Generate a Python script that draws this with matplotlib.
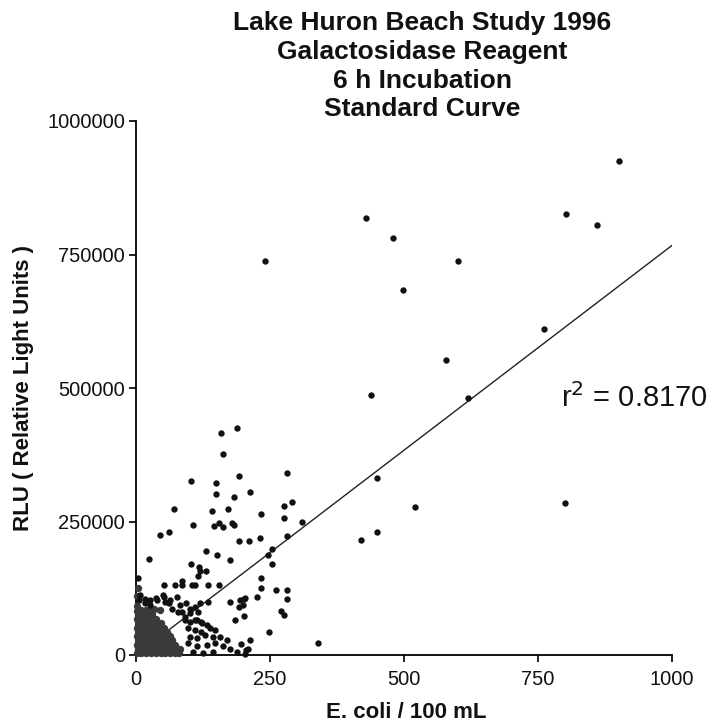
import numpy as np
import matplotlib
matplotlib.use("Agg")
import matplotlib.pyplot as plt

plt.rcParams['font.family'] = ['Liberation Sans', 'DejaVu Sans']

# ---- data (E. coli per 100 mL, RLU in thousands) ----
scatter_x = [901, 802, 861, 430, 480, 241, 600, 499, 762, 579, 439, 620, 450, 520, 450, 420, 801,
             158, 189, 162, 102, 150, 192, 150, 182, 213, 281, 70, 142, 172, 277, 291, 234, 276, 310,
             45, 62, 106, 146, 154, 162, 180, 182, 193, 211, 231, 281,
             253, 246, 175, 253, 233, 233, 261, 281, 225, 281, 175, 202, 193, 200, 270, 276, 202, 185,
             249, 213, 340,
             25, 102, 118, 120, 130, 130, 152, 116, 4, 53, 72, 86, 86, 104, 110, 135, 155, 135, 194, 203,
             7, 17, 26, 37, 51, 54, 63, 76, 82, 79, 94, 101, 110, 116, 119,
             91, 101, 113, 122, 132, 97, 110, 122, 138, 147, 101, 113, 128, 144, 156, 169,
             97, 113, 132, 147, 163, 175, 188, 203, 107, 125, 144,
             5, 17, 27, 39, 52, 61, 67, 86, 92, 101, 110, 123, 209, 196, 205]
scatter_y = [925, 825, 805, 818, 780, 737, 738, 683, 611, 553, 487, 482, 332, 277, 230, 215, 284,
             416, 425, 377, 326, 323, 336, 302, 295, 306, 341, 273, 270, 273, 279, 287, 264, 257, 249,
             225, 231, 243, 242, 248, 240, 247, 243, 214, 214, 219, 223,
             199, 187, 178, 170, 145, 126, 122, 121, 109, 105, 99, 105, 90, 93, 82, 75, 73, 66,
             44, 29, 22,
             179, 170, 165, 158, 195, 158, 187, 148, 144, 132, 132, 139, 131, 132, 132, 132, 132, 100, 103, 106,
             112, 104, 103, 106, 112, 100, 103, 109, 94, 81, 97, 87, 90, 81, 97,
             66, 62, 66, 62, 56, 50, 47, 44, 50, 47, 34, 31, 37, 34, 34, 28,
             22, 16, 19, 22, 16, 12, 6, 2, 6, 3, 6,
             103, 97, 94, 103, 109, 97, 87, 81, 72, 78, 66, 59, 12, 20, 9]

# densely overlapping points near the origin
cluster_x = [2, 10, 19, 28, 37, 46, 55, 64, 72, 80,
             3, 12, 21, 30, 39, 48, 57, 66, 75, 82,
             2, 11, 20, 29, 38, 47, 56, 65, 73,
             4, 13, 22, 31, 40, 49, 58, 67,
             2, 11, 20, 29, 38, 47, 56, 63,
             3, 12, 21, 30, 39, 48, 57,
             2, 11, 20, 29, 38, 47, 53,
             4, 13, 22, 31, 40, 47,
             2, 11, 20, 29, 37,
             3, 12, 21, 29,
             2, 10, 18, 24, 33, 44,
             2, 2, 3]
cluster_y = [3, 4, 3, 4, 3, 4, 3, 4, 3, 4,
             11, 12, 11, 12, 11, 12, 11, 12, 11, 12,
             19, 20, 19, 20, 19, 20, 19, 20, 19,
             27, 28, 27, 28, 27, 28, 27, 28,
             35, 36, 35, 36, 35, 36, 35, 36,
             43, 44, 43, 44, 43, 44, 43,
             51, 52, 51, 52, 51, 52, 51,
             59, 60, 59, 60, 59, 60,
             67, 68, 67, 68, 67,
             75, 76, 75, 76,
             83, 84, 85, 82, 86, 84,
             92, 110, 125]

# regression line endpoints (E. coli, RLU in thousands)
fit_x = [0, 1000]
fit_y = [0, 767]

r2_text = "r$^2$ = 0.8170"
title_lines = ["Lake Huron Beach Study 1996", "Galactosidase Reagent",
               "6 h Incubation", "Standard Curve"]
xticks = [0, 250, 500, 750, 1000]
yticks = [0, 250000, 500000, 750000, 1000000]

# ---- figure ----
W, H = 715, 727
fig = plt.figure(figsize=(W / 100, H / 100), dpi=100)
ax = fig.add_axes([136 / W, 1 - 655 / H, (672 - 136) / W, (655 - 121) / H])

k = 1000
ax.scatter(np.array(cluster_x), np.array(cluster_y) * k, s=28, color='#3a3a3a',
           linewidths=0, clip_on=False, zorder=3)
ax.scatter(np.array(scatter_x), np.array(scatter_y) * k, s=21, color='#111111',
           linewidths=0, clip_on=False, zorder=3)
ax.plot(fit_x, np.array(fit_y) * k, color='#222222', lw=1.0, zorder=2)

ax.set_xlim(0, 1000)
ax.set_ylim(0, 1000000)
ax.set_xticks(xticks)
ax.set_xticklabels([str(t) for t in xticks])
ax.set_yticks(yticks)
ax.set_yticklabels([str(t) for t in yticks])
for s in ['top', 'right']:
    ax.spines[s].set_visible(False)
for s in ['left', 'bottom']:
    ax.spines[s].set_linewidth(1.3)
ax.tick_params(axis='both', direction='out', length=5, width=1.3, labelsize=14.5,
               colors='#111111')
ax.tick_params(axis='x', pad=6)
ax.tick_params(axis='y', pad=3)

ax.text(1067, 481000, r2_text, fontsize=21, ha='right', va='center', color='#111111')

fig.text(422 / W, 1 - 11 / H, "\n".join(title_lines), ha='center', va='top',
         fontsize=19, fontweight='bold', linespacing=1.25, color='#111111')
fig.text(24 / W, 1 - 388 / H, "RLU ( Relative Light Units )", rotation=90,
         ha='center', va='center', fontsize=16, fontweight='bold', color='#111111')
fig.text(406 / W, 1 - 713 / H, "E. coli / 100 mL", ha='center', va='center',
         fontsize=16, fontweight='bold', color='#111111')

fig.savefig("out.png", dpi=100)
